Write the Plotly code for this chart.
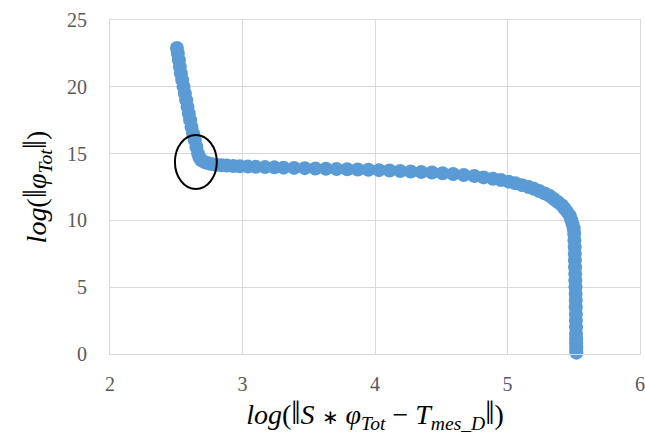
import plotly.graph_objects as go

x_vals = [2.505, 2.512, 2.52, 2.527, 2.535, 2.545, 2.555, 2.565, 2.575, 2.585, 2.595, 2.605,
          2.615, 2.627, 2.64, 2.652, 2.665, 2.675, 2.69, 2.71, 2.735, 2.765, 2.80, 2.84,
          2.88, 2.93, 2.98, 3.04, 3.10, 3.17, 3.24, 3.31, 3.39, 3.47, 3.55, 3.63, 3.71,
          3.79, 3.87, 3.95, 4.03, 4.11, 4.19, 4.27, 4.35, 4.43, 4.51, 4.59, 4.67, 4.75,
          4.82, 4.89, 4.95, 5.01, 5.06, 5.11, 5.16, 5.20, 5.24, 5.28, 5.32, 5.35, 5.38,
          5.41, 5.43, 5.45, 5.47, 5.48, 5.49, 5.50, 5.503, 5.505, 5.507, 5.508, 5.509,
          5.51, 5.511, 5.512, 5.513, 5.514, 5.515, 5.515, 5.516, 5.516, 5.517, 5.517,
          5.518, 5.518, 5.519, 5.519, 5.52]
y_vals = [22.9, 22.5, 22.0, 21.5, 21.0, 20.5, 20.0, 19.5, 19.0, 18.5, 18.0, 17.5,
          17.0, 16.5, 16.0, 15.5, 15.0, 14.7, 14.5, 14.38, 14.3, 14.22, 14.17, 14.13,
          14.10, 14.07, 14.05, 14.03, 14.01, 13.99, 13.97, 13.95, 13.93, 13.91, 13.89, 13.87, 13.85,
          13.83, 13.81, 13.79, 13.76, 13.73, 13.70, 13.66, 13.62, 13.58, 13.53, 13.47, 13.40, 13.32,
          13.22, 13.12, 13.02, 12.90, 12.78, 12.64, 12.50, 12.36, 12.20, 12.02, 11.82, 11.60, 11.38,
          11.14, 10.90, 10.64, 10.36, 10.06, 9.74, 9.4, 9.0, 8.5, 8.0, 7.5, 7.0,
          6.5, 6.0, 5.5, 5.0, 4.5, 4.0, 3.5, 3.0, 2.5, 2.0, 1.5,
          1.1, 0.8, 0.5, 0.3, 0.1]

x_ticks = [2, 3, 4, 5, 6]
y_ticks = [0, 5, 10, 15, 20, 25]

BAR = "<span style='font-size:33px'>‖</span>"
STAR = "<span style='font-size:20px'>∗</span>"
x_title = ("<i>log</i>(" + BAR + "<i>S</i> " + STAR + " <i>φ</i><sub><i>Tot</i></sub> − "
           "<i>T</i><sub><i>mes_D</i></sub>" + BAR + ")")
y_title = "<i>log</i>(" + BAR + "<i>φ</i><sub><i>Tot</i></sub>" + BAR + ")"

# circled knee region (data coords)
ell_x = [2.49, 2.806]
ell_y = [12.35, 16.39]

fig = go.Figure()
fig.add_trace(go.Scatter(
    x=x_vals, y=y_vals, mode="markers",
    marker=dict(color="#5B9BD5", size=14, line=dict(width=0)),
    showlegend=False, cliponaxis=False,
))

fig.add_shape(type="circle", xref="x", yref="y",
              x0=ell_x[0], x1=ell_x[1], y0=ell_y[0], y1=ell_y[1],
              line=dict(color="black", width=2))

grid = "#D9D9D9"
tickfont = dict(family="Liberation Serif", size=20, color="#595959")
titlefont = dict(family="Liberation Serif", size=28, color="black")

fig.update_xaxes(range=[2, 6], tickvals=x_ticks, showgrid=True, gridcolor=grid, gridwidth=1,
                 zeroline=False, showline=True, linecolor=grid, mirror=True, automargin=False,
                 tickfont=tickfont, ticks="", ticklabelstandoff=12,
                 title=dict(text=x_title, font=titlefont, standoff=8))
fig.update_yaxes(range=[0, 25], tickvals=y_ticks, showgrid=True, gridcolor=grid, gridwidth=1,
                 zeroline=False, showline=True, linecolor=grid, mirror=True, automargin=False,
                 tickfont=tickfont, ticks="", ticklabelstandoff=18,
                 title=dict(text=y_title, font=titlefont, standoff=12))

fig.update_layout(
    width=645, height=441,
    margin=dict(l=110, r=5, t=20, b=87),
    plot_bgcolor="white", paper_bgcolor="white",
)

fig.write_html("out.html", config={"displayModeBar": False},
               post_script="document.body.style.margin='0';document.body.style.overflow='hidden';")
